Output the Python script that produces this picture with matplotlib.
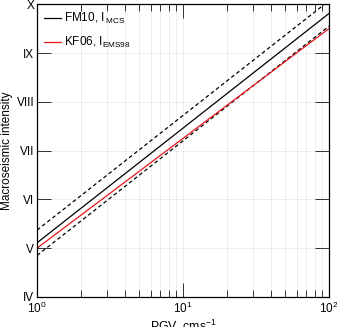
import numpy as np
import matplotlib
matplotlib.use('Agg')
import matplotlib.pyplot as plt
from matplotlib.ticker import LogLocator, FixedLocator, NullFormatter

plt.rcParams['font.family'] = ['Liberation Sans', 'DejaVu Sans']
plt.rcParams['mathtext.fontset'] = 'custom'
plt.rcParams['mathtext.rm'] = 'Liberation Sans'
plt.rcParams['mathtext.it'] = 'Liberation Sans'

# ── data ────────────────────────────────────────────────────────────────────
log_pgv     = [0.0, 2.0]            # log10(PGV), end points of the relations
fm10_mid    = [5.11, 9.81]          # FM10, I_MCS
fm10_upper  = [5.37, 10.07]         # FM10 +1 sigma
fm10_lower  = [4.85, 9.55]          # FM10 -1 sigma
kf06        = [5.00, 9.50]          # KF06, I_EMS98

ytick_vals   = [4, 5, 6, 7, 8, 9, 10]
ytick_labels = ['IV', 'V', 'VI', 'VII', 'VIII', 'IX', 'X']
# ────────────────────────────────────────────────────────────────────────────

pgv = 10 ** np.array(log_pgv)

fig = plt.figure(figsize=(3.37, 3.27), dpi=100)
ax = fig.add_axes([0.110, 0.092, 0.866, 0.895])

dash = (0, (3, 2.2))
ax.plot(pgv, fm10_upper, color='black', lw=0.9, ls=dash)
ax.plot(pgv, fm10_lower, color='black', lw=0.9, ls=dash)
ax.plot(pgv, fm10_mid, color='black', lw=0.9, label='FM10, I$\\,_{\\mathregular{MCS}}$')
ax.plot(pgv, kf06, color='#e8161b', lw=0.9, label='KF06, I$_{\\mathregular{EMS98}}$')

ax.set_xscale('log')
ax.set_xlim(1, 100)
ax.set_ylim(4, 10)
ax.yaxis.set_major_locator(FixedLocator(ytick_vals))
ax.set_yticklabels(ytick_labels)
ax.xaxis.set_major_locator(LogLocator(base=10, numticks=5))
ax.xaxis.set_minor_locator(LogLocator(base=10, subs=np.arange(2, 10), numticks=20))
ax.xaxis.set_minor_formatter(NullFormatter())

grid_ls = (0, (0.8, 1.6))
ax.grid(True, which='major', axis='both', ls=grid_ls, color='#c4c4c4', lw=0.6)
ax.grid(True, which='minor', axis='x', ls=grid_ls, color='#c4c4c4', lw=0.6)

ax.tick_params(which='both', direction='in', top=True, right=True,
               labelsize=8.5, color='#333333', width=0.7)
ax.tick_params(which='major', length=10)
ax.tick_params(which='minor', length=5)
ax.tick_params(axis='y', pad=2)
ax.tick_params(axis='x', pad=3)
for s in ax.spines.values():
    s.set_linewidth(0.9)

ax.set_xlabel('PGV, cms$^{-1}$', fontsize=8.8, labelpad=1)
ax.set_ylabel('Macroseismic intensity', fontsize=8.5, labelpad=3)

ax.legend(loc='upper left', frameon=False, fontsize=8.5, handlelength=1.5,
          handletextpad=0.25, borderaxespad=0.25, labelspacing=0.75,
          borderpad=0.3)

fig.savefig('out.png', dpi=100)
